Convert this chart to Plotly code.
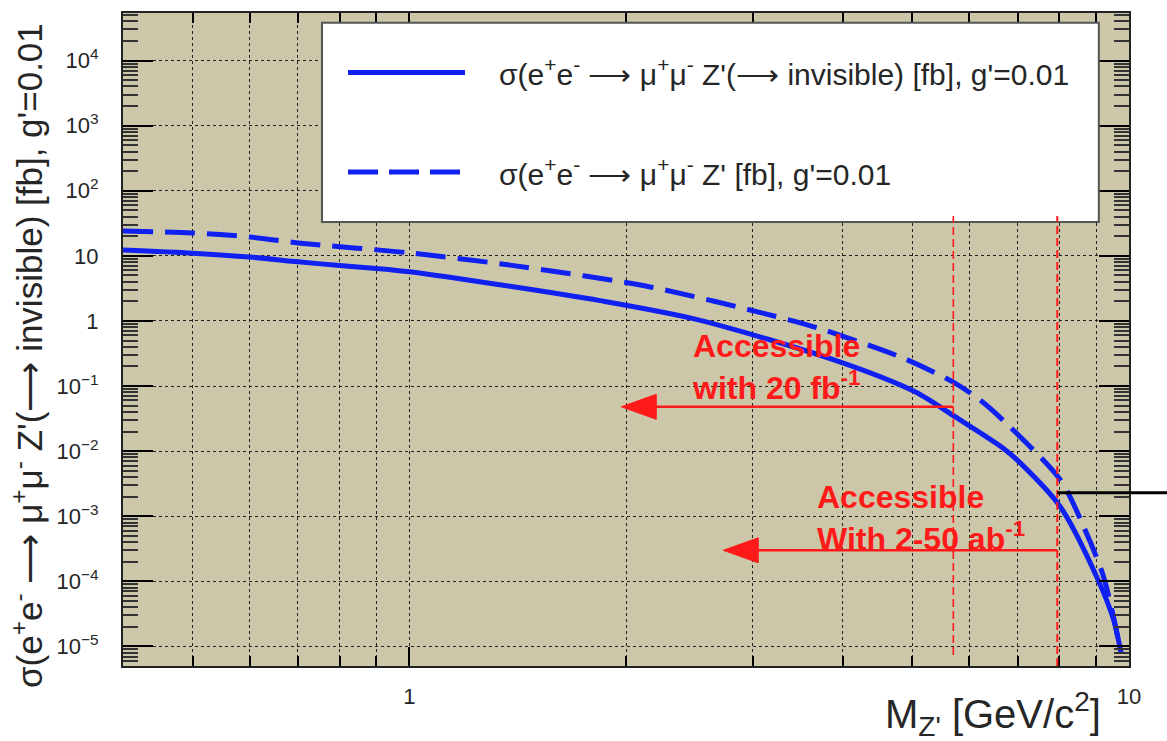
import numpy as np
import plotly.graph_objects as go

# ---------------- data ----------------
mass_inv = [0.40, 0.50, 0.60, 0.70, 0.80, 0.90, 1.00, 1.38, 1.84, 2.52, 3.90,
            5.05, 5.74, 6.68, 7.06, 8.03, 9.02, 9.52, 9.75]
sigma_inv = [12.3, 11.0, 9.6, 8.1, 7.1, 6.4, 5.7, 3.4, 2.05, 1.04, 0.25,
             0.081, 0.0335, 0.0112, 0.0066, 0.00139, 1.17e-4, 2.56e-5, 7.9e-6]

mass_tot = [0.40, 0.50, 0.60, 0.70, 1.00, 1.38, 2.17, 3.37, 3.75, 4.85, 5.69,
            6.21, 6.68, 8.03, 8.65, 9.22, 9.75]
sigma_tot = [24.1, 22.5, 19.5, 15.8, 11.1, 7.2, 3.3, 1.04, 0.74, 0.27, 0.116,
             0.061, 0.030, 0.0036, 6.9e-4, 1.17e-4, 7.9e-6]

reach_mass = [5.70, 7.95]          # vertical red reach lines
reach_arrow_sigma = [0.048, 3.0e-4]
reach_arrow_tip = [1.97, 2.73]
reach_line_top = 41.0
reach_line_bottom = [7.4e-6, 5.0e-6]
marker_sigma = 2.3e-3              # short black horizontal marker

x_tickvals = [1, 10]
x_ticktext = ["1", "10"]
x_minor = [0.5, 0.6, 0.7, 0.8, 0.9, 2, 3, 4, 5, 6, 7, 8, 9]
y_tickvals = [1e-5, 1e-4, 1e-3, 1e-2, 1e-1, 1, 10, 1e2, 1e3, 1e4]
y_ticktext = ["10<sup>−5</sup>", "10<sup>−4</sup>", "10<sup>−3</sup>", "10<sup>−2</sup>",
              "10<sup>−1</sup>", "1", "10", "10<sup>2</sup>", "10<sup>3</sup>", "10<sup>4</sup>"]
y_minor = [k * 10.0 ** e for e in range(-6, 5) for k in range(2, 10)]

ARROW = " ⟶ "
legend_labels = ["σ(e<sup>+</sup>e<sup>-</sup>" + ARROW + "μ<sup>+</sup>μ<sup>-</sup> Z'(⟶ invisible) [fb], g'=0.01",
                 "σ(e<sup>+</sup>e<sup>-</sup>" + ARROW + "μ<sup>+</sup>μ<sup>-</sup> Z' [fb], g'=0.01"]
y_title = "σ(e<sup>+</sup>e<sup>-</sup>" + ARROW + "μ<sup>+</sup>μ<sup>-</sup> Z'(⟶ invisible) [fb], g'=0.01"
x_title = "M<sub>Z'</sub> [GeV/c<sup>2</sup>]"
reach_texts = ["<b>Accessible<br>with 20 fb<sup>-1</sup></b>",
               "<b>Accessible<br>With 2-50 ab<sup>-1</sup></b>"]

# ---------------- styling ----------------
BLUE = "#1020f0"
RED = "#ff1a1a"
BG = "#cdc7a9"
FONT = "Liberation Sans, Arial, sans-serif"
TXT = "#262626"

x_range = [np.log10(0.4), 1.0]
y_range = [-5.30, 4.73]


def xpaper(v):
    return (np.log10(v) - x_range[0]) / (x_range[1] - x_range[0])


def ypaper(v):
    return (np.log10(v) - y_range[0]) / (y_range[1] - y_range[0])


fig = go.Figure()
fig.add_trace(go.Scatter(x=mass_inv, y=sigma_inv, mode="lines", name=legend_labels[0],
                         line=dict(color=BLUE, width=5, shape="spline", smoothing=0.8),
                         showlegend=False))
fig.add_trace(go.Scatter(x=mass_tot, y=sigma_tot, mode="lines", name=legend_labels[1],
                         line=dict(color=BLUE, width=5, dash="30px,12px", shape="spline", smoothing=0.8),
                         showlegend=False))

shapes = []
annotations = []

# legend box (drawn manually, ROOT style)
shapes.append(dict(type="rect", xref="paper", yref="paper", x0=0.1978, x1=0.970, y0=0.680, y1=0.985,
                   fillcolor="white", line=dict(color="#555", width=2), layer="above"))
leg_y = [0.909, 0.7565]
for i, dash in enumerate(["solid", "30px,11px"]):
    shapes.append(dict(type="line", xref="paper", yref="paper", x0=0.2237, x1=0.3400,
                       y0=leg_y[i], y1=leg_y[i], line=dict(color=BLUE, width=5, dash=dash), layer="above"))
    annotations.append(dict(xref="paper", yref="paper", x=0.3718, y=leg_y[i], xanchor="left",
                            yanchor="middle", text=legend_labels[i], showarrow=False,
                            font=dict(family=FONT, size=30, color=TXT)))

# red reach lines and arrows
for i in range(2):
    shapes.append(dict(type="line", xref="x", yref="y", x0=reach_mass[i], x1=reach_mass[i],
                       y0=reach_line_bottom[i], y1=reach_line_top,
                       line=dict(color=RED, width=1.6 if i == 0 else 2, dash="8px,4px"), layer="above"))
    shapes.append(dict(type="line", xref="x", yref="y", x0=reach_arrow_tip[i] * 1.05, x1=reach_mass[i],
                       y0=reach_arrow_sigma[i], y1=reach_arrow_sigma[i],
                       line=dict(color=RED, width=2.5), layer="above"))
    shapes.append(dict(type="path", xref="x", yref="y", xsizemode="pixel", ysizemode="pixel",
                       xanchor=reach_arrow_tip[i], yanchor=reach_arrow_sigma[i],
                       path="M0,0 L35,12.5 L35,-12.5 Z", fillcolor=RED,
                       line=dict(color=RED, width=1), layer="above"))

# black marker line
shapes.append(dict(type="line", xref="paper", yref="paper", x0=xpaper(reach_mass[1]), x1=1.05,
                   y0=ypaper(marker_sigma), y1=ypaper(marker_sigma),
                   line=dict(color="black", width=3), layer="above"))

# red texts
red_font = dict(family=FONT, size=32, color=RED)
for t, px, py in [(reach_texts[0], 690, 367), (reach_texts[1], 815, 518)]:
    annotations.append(dict(xref="paper", yref="paper", x=(px - 123) / 1006, y=(666 - py) / 653,
                            xanchor="left", yanchor="middle", align="left", text=t,
                            showarrow=False, font=red_font))

# axis titles
annotations.append(dict(xref="paper", yref="paper", x=(27 - 123) / 1006, y=(666 - 356) / 653,
                        xanchor="center", yanchor="middle", textangle=-90, showarrow=False,
                        text=y_title, font=dict(family=FONT, size=35, color=TXT)))
annotations.append(dict(xref="paper", yref="paper", x=(1103 - 123) / 1006, y=(666 - 714) / 653,
                        xanchor="right", yanchor="middle", showarrow=False,
                        text=x_title, font=dict(family=FONT, size=40, color=TXT)))

fig.update_layout(
    width=1167, height=741,
    margin=dict(l=123, r=38, t=13, b=75),
    paper_bgcolor="white", plot_bgcolor=BG,
    shapes=shapes, annotations=annotations,
    showlegend=False,
)
fig.update_xaxes(
    type="log", range=x_range,
    tickmode="array", tickvals=x_tickvals, ticktext=x_ticktext,
    ticks="inside", ticklen=19, tickwidth=2, tickcolor="black",
    showline=True, linecolor="#222", linewidth=2, mirror="ticks",
    showgrid=True, gridcolor="#222", griddash="dot", gridwidth=1.2,
    zeroline=False, ticklabelstandoff=10,
    tickfont=dict(family=FONT, size=22, color=TXT),
    minor=dict(tickmode="array", tickvals=x_minor, ticks="inside", ticklen=10, tickwidth=2,
               tickcolor="black", showgrid=True, gridcolor="#222", griddash="dot", gridwidth=1.2),
)
fig.update_yaxes(
    type="log", range=y_range,
    tickmode="array", tickvals=y_tickvals, ticktext=y_ticktext,
    ticks="inside", ticklen=30, tickwidth=2, tickcolor="black",
    showline=True, linecolor="#222", linewidth=2, mirror="ticks",
    showgrid=True, gridcolor="#222", griddash="dot", gridwidth=1.2,
    zeroline=False, ticklabelstandoff=18,
    tickfont=dict(family=FONT, size=22, color=TXT),
    minor=dict(tickmode="array", tickvals=y_minor, ticks="inside", ticklen=15, tickwidth=1.5,
               tickcolor="#333", showgrid=False),
)

fig.write_html("out.html")
